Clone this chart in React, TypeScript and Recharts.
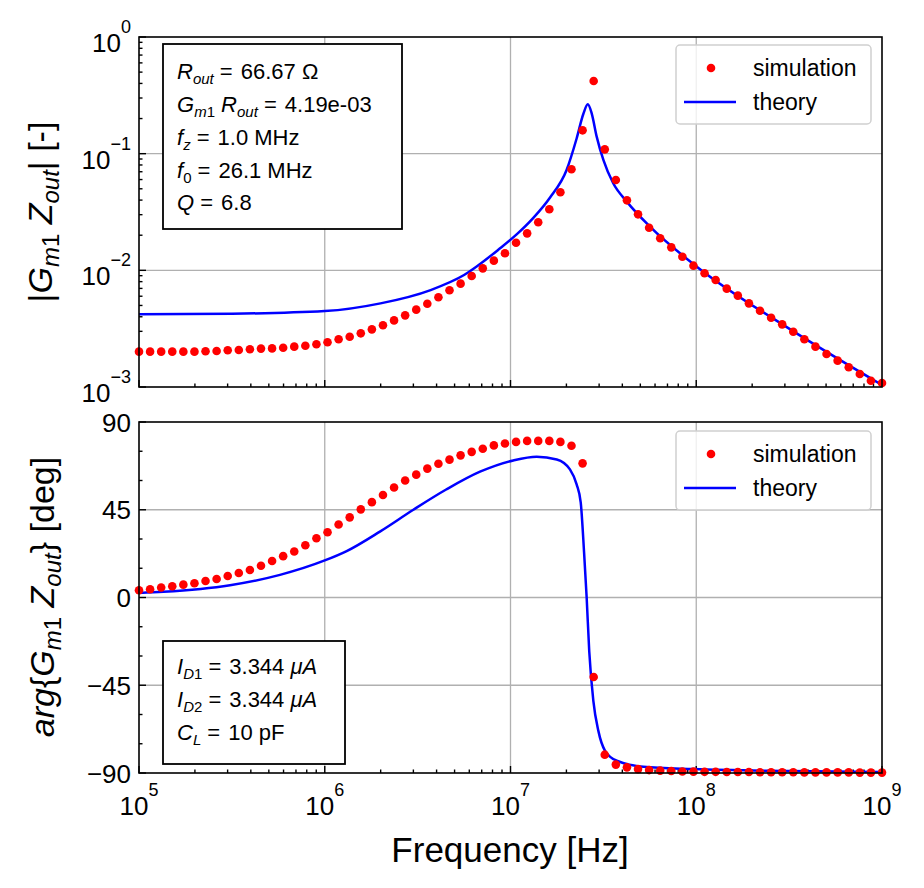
import React from "react";
import {
  ComposedChart,
  Line,
  Scatter,
  XAxis,
  YAxis,
  ReferenceLine,
} from "recharts";

// sweep: 68 log-spaced points, 1e5 .. 1e9 Hz (values in decades)
const SWEEP_POINTS = 68;
const freqDecades = Array.from(
  { length: SWEEP_POINTS },
  (_, i) => 5 + (i * 4) / (SWEEP_POINTS - 1)
);

// |Gm1 Zout| simulation, log10
const simMagDecades = [
  -2.697, -2.697, -2.697, -2.697, -2.697, -2.697, -2.694, -2.691, -2.685, -2.683,
  -2.677, -2.671, -2.669, -2.663, -2.654, -2.646, -2.634, -2.617, -2.591, -2.569,
  -2.54, -2.506, -2.471, -2.429, -2.386, -2.337, -2.286, -2.231, -2.171, -2.114,
  -2.049, -1.983, -1.917, -1.854, -1.763, -1.683, -1.588, -1.477, -1.331, -1.134,
  -0.8, -0.377, -0.963, -1.226, -1.4, -1.52, -1.635, -1.725, -1.803, -1.883,
  -1.96, -2.025, -2.083, -2.157, -2.217, -2.283, -2.346, -2.406, -2.463, -2.526,
  -2.591, -2.654, -2.717, -2.774, -2.831, -2.889, -2.946, -2.966,
];

// arg{Gm1 Zout} simulation, deg
const simPhaseDeg = [
  3.7, 4.2, 5.1, 5.8, 6.6, 7.3, 8.5, 9.5, 11.0, 12.6,
  14.1, 16.3, 18.7, 21.2, 23.6, 26.8, 30.4, 33.5, 37.4, 41.1,
  45.2, 48.9, 52.6, 56.4, 60.0, 63.0, 66.1, 68.6, 70.7, 72.9,
  74.7, 76.3, 78.0, 79.0, 79.8, 80.3, 80.3, 80.3, 79.8, 77.8,
  68.8, -40.8, -80.6, -85.7, -87.1, -88.0, -88.5, -88.8, -89.0, -89.2,
  -89.3, -89.4, -89.4, -89.5, -89.5, -89.5, -89.6, -89.6, -89.6, -89.6,
  -89.7, -89.7, -89.7, -89.7, -89.7, -89.8, -89.8, -89.8,
];

// theory curves sampled from the plot: [freq decade, value]
const theoryMag: [number, number][] = [
  [5.0, -2.377], [5.5, -2.372], [6.0, -2.349], [6.3, -2.283], [6.57, -2.169],
  [6.75, -2.04], [6.944, -1.811], [7.033, -1.692], [7.123, -1.55], [7.213, -1.375],
  [7.302, -1.14], [7.356, -0.87], [7.392, -0.66], [7.416, -0.577], [7.437, -0.654],
  [7.464, -0.854], [7.5, -1.054], [7.553, -1.254], [7.626, -1.411], [7.751, -1.626],
  [8.003, -1.969], [8.5, -2.5], [9.0, -2.983],
];
const theoryPhase: [number, number][] = [
  [5.0, 2.3], [5.131, 2.9], [5.49, 6.3], [5.759, 11.6], [6.0, 19.0],
  [6.118, 23.8], [6.297, 33.8], [6.477, 45.0], [6.656, 55.5], [6.836, 64.5],
  [7.015, 70.3], [7.141, 72.2], [7.249, 70.8], [7.32, 65.7], [7.356, 58],
  [7.378, 48.8], [7.396, 23.3], [7.41, 0], [7.424, -27.7], [7.446, -53],
  [7.473, -68.4], [7.509, -78.6], [7.572, -83.7], [7.715, -86.8], [7.984, -88],
  [8.5, -89], [9.0, -89.5],
];

const xMajor = [5, 6, 7, 8, 9];
const magMajor = [-3, -2, -1, 0];
const phaseMajor = [-90, -45, 0, 45, 90];
const phaseMinor = [-75, -60, -30, -15, 15, 30, 60, 75];

const FONT = "'Liberation Sans', Arial, sans-serif";
const RED = "#ff0000";
const BLUE = "#0000ff";
const GRID = "#b0b0b0";

const decadeMinors = (majors: number[]) =>
  majors.slice(0, -1).flatMap((m) =>
    [2, 3, 4, 5, 6, 7, 8, 9].map((k) => m + Math.log10(k))
  );
const xTicks = [...xMajor, ...decadeMinors(xMajor)].sort((a, b) => a - b);
const magTicks = [...magMajor, ...decadeMinors(magMajor)].sort((a, b) => a - b);
const phaseTicks = [...phaseMajor, ...phaseMinor].sort((a, b) => a - b);

const simMag = freqDecades.map((x, i) => ({ x, y: simMagDecades[i] }));
const simPhase = freqDecades.map((x, i) => ({ x, y: simPhaseDeg[i] }));
const thMag = theoryMag.map(([x, y]) => ({ x, y }));
const thPhase = theoryPhase.map(([x, y]) => ({ x, y }));

const isInt = (v: number) => Math.abs(v - Math.round(v)) < 1e-6;
const minus = (s: string) => s.replace("-", "\u2212");

function XTick(props: any) {
  const { x, y, payload } = props;
  if (!isInt(payload.value)) return <g />;
  return (
    <text x={x} y={y + 40} textAnchor="middle" fontFamily={FONT} fontSize={26} fill="#000">
      <tspan>10</tspan>
      <tspan dy={-19} fontSize={18}>{payload.value}</tspan>
    </text>
  );
}

function MagTick(props: any) {
  const { x, y, payload } = props;
  if (!isInt(payload.value)) return <g />;
  return (
    <text x={x - 6} y={y + 15} textAnchor="end" fontFamily={FONT} fontSize={26} fill="#000">
      <tspan>10</tspan>
      <tspan dy={-19} fontSize={18}>{minus(String(payload.value))}</tspan>
    </text>
  );
}

function PhaseTick(props: any) {
  const { x, y, payload } = props;
  if (payload.value % 45 !== 0) return <g />;
  return (
    <text x={x - 6} y={y + 9.5} textAnchor="end" fontFamily={FONT} fontSize={26} fill="#000">
      {minus(String(payload.value))}
    </text>
  );
}

const dot = (p: any) => <circle cx={p.cx} cy={p.cy} r={4.3} fill={RED} />;

// inward tick marks built as short reference segments (lengths in data units)
function tickMarks(
  xs: number[], ys: number[], x0: number, y0: number,
  xLen: number, yLen: number, isMajorX: (v: number) => boolean, isMajorY: (v: number) => boolean
) {
  return [
    ...xs.map((v) => (
      <ReferenceLine key={"tx" + v} ifOverflow="visible" stroke="#000" strokeWidth={1.4}
        segment={[{ x: v, y: y0 }, { x: v, y: y0 + (isMajorX(v) ? yLen : yLen / 2) }]} />
    )),
    ...ys.map((v) => (
      <ReferenceLine key={"ty" + v} ifOverflow="visible" stroke="#000" strokeWidth={1.4}
        segment={[{ x: x0, y: v }, { x: x0 + (isMajorY(v) ? xLen : xLen / 2), y: v }]} />
    )),
  ];
}

function Legend({ top }: { top: number }) {
  return (
    <g fontFamily={FONT} fontSize={23}>
      <rect x={676} y={top} width={195} height={79} rx={4} fill="#fff" fillOpacity={0.8} stroke="#d0d0d0" strokeWidth={1.5} />
      <circle cx={711} cy={top + 23} r={4.3} fill={RED} />
      <text x={753} y={top + 31}>simulation</text>
      <line x1={684} x2={736} y1={top + 57} y2={top + 57} stroke={BLUE} strokeWidth={2.5} />
      <text x={753} y={top + 65}>theory</text>
    </g>
  );
}

const sub = { fontSize: 15, dy: 5 } as const;
const back = { dy: -5 } as const;

export default function App() {
  return (
    <div style={{ position: "absolute", left: 0, top: 0, width: 924, height: 888, background: "#fff" }}>
      <div style={{ position: "absolute", left: 0, top: 0 }}>
        <ComposedChart width={924} height={420} margin={{ top: 37, right: 42, bottom: 0, left: 0 }}>
          <XAxis type="number" dataKey="x" domain={[5, 9]} ticks={xTicks} interval={0}
            height={33} tickSize={0} tickLine={false} axisLine={false} tick={false} allowDuplicatedCategory={false} />
          <YAxis type="number" dataKey="y" domain={[-3, 0]} ticks={magTicks} interval={0}
            width={139} tickSize={0} tickLine={false} axisLine={false} tick={<MagTick />} />
          {xMajor.slice(1, -1).map((v) => <ReferenceLine key={"x" + v} x={v} stroke={GRID} strokeWidth={1.3} />)}
          {magMajor.slice(1, -1).map((v) => <ReferenceLine key={"y" + v} y={v} stroke={GRID} strokeWidth={1.3} />)}
          {tickMarks(xTicks, magTicks, 5, -3, 0.0377, 0.06, isInt, isInt)}
          <Line data={thMag} dataKey="y" type="monotone" stroke={BLUE} strokeWidth={2.5} dot={false} isAnimationActive={false} />
          <Scatter data={simMag} dataKey="y" fill={RED} shape={dot} isAnimationActive={false} />
        </ComposedChart>
      </div>
      <div style={{ position: "absolute", left: 0, top: 400 }}>
        <ComposedChart width={924} height={488} margin={{ top: 22, right: 42, bottom: 0, left: 0 }}>
          <XAxis type="number" dataKey="x" domain={[5, 9]} ticks={xTicks} interval={0}
            height={115} tickSize={0} tickLine={false} axisLine={false} tick={<XTick />} allowDuplicatedCategory={false} />
          <YAxis type="number" dataKey="y" domain={[-90, 90]} ticks={phaseTicks} interval={0}
            width={139} tickSize={0} tickLine={false} axisLine={false} tick={<PhaseTick />} />
          {xMajor.slice(1, -1).map((v) => <ReferenceLine key={"x" + v} x={v} stroke={GRID} strokeWidth={1.3} />)}
          {phaseMajor.slice(1, -1).map((v) => <ReferenceLine key={"y" + v} y={v} stroke={GRID} strokeWidth={1.3} />)}
          {tickMarks(xTicks, phaseTicks, 5, -90, 0.0377, 3.6, isInt, (v) => v % 45 === 0)}
          <Line data={thPhase} dataKey="y" type="monotone" stroke={BLUE} strokeWidth={2.5} dot={false} isAnimationActive={false} />
          <Scatter data={simPhase} dataKey="y" fill={RED} shape={dot} isAnimationActive={false} />
        </ComposedChart>
      </div>
      <svg width={924} height={888} style={{ position: "absolute", left: 0, top: 0, pointerEvents: "none" }}>
        <rect x={139} y={37} width={743} height={350} fill="none" stroke="#000" strokeWidth={1.6} />
        <rect x={139} y={422} width={743} height={351} fill="none" stroke="#000" strokeWidth={1.6} />

        <g fontFamily={FONT} fontSize={22} fill="#000">
          <rect x={163} y={44} width={239} height={185} fill="#fff" stroke="#000" strokeWidth={1.8} />
          <text x={177} y={79}>
            <tspan fontStyle="italic">R</tspan><tspan fontStyle="italic" {...sub}>out</tspan>
            <tspan {...back}> =</tspan><tspan dx={8}>66.67 Ω</tspan>
          </text>
          <text x={177} y={112}>
            <tspan fontStyle="italic">G</tspan><tspan fontStyle="italic" {...sub}>m</tspan><tspan fontSize={15}>1</tspan>
            <tspan {...back} fontStyle="italic"> R</tspan><tspan fontStyle="italic" {...sub}>out</tspan>
            <tspan {...back}> =</tspan><tspan dx={8}>4.19e-03</tspan>
          </text>
          <text x={177} y={145}>
            <tspan fontStyle="italic">f</tspan><tspan fontStyle="italic" {...sub}>z</tspan>
            <tspan {...back}> =</tspan><tspan dx={8}>1.0 MHz</tspan>
          </text>
          <text x={177} y={178}>
            <tspan fontStyle="italic">f</tspan><tspan {...sub}>0</tspan>
            <tspan {...back}> =</tspan><tspan dx={8}>26.1 MHz</tspan>
          </text>
          <text x={177} y={210}>
            <tspan fontStyle="italic">Q</tspan><tspan> =</tspan><tspan dx={8}>6.8</tspan>
          </text>

          <rect x={163} y={641} width={182} height={123} fill="#fff" stroke="#000" strokeWidth={1.8} />
          <text x={177} y={674}>
            <tspan fontStyle="italic">I</tspan><tspan fontStyle="italic" {...sub}>D</tspan><tspan fontSize={15}>1</tspan>
            <tspan {...back}> =</tspan><tspan dx={8}>3.344 </tspan><tspan fontStyle="italic">μA</tspan>
          </text>
          <text x={177} y={707}>
            <tspan fontStyle="italic">I</tspan><tspan fontStyle="italic" {...sub}>D</tspan><tspan fontSize={15}>2</tspan>
            <tspan {...back}> =</tspan><tspan dx={8}>3.344 </tspan><tspan fontStyle="italic">μA</tspan>
          </text>
          <text x={177} y={740}>
            <tspan fontStyle="italic">C</tspan><tspan fontStyle="italic" {...sub}>L</tspan>
            <tspan {...back}> =</tspan><tspan dx={8}>10 pF</tspan>
          </text>
        </g>

        <Legend top={45} />
        <Legend top={431} />

        <g fontFamily={FONT} fontSize={34} fill="#000">
          <text transform="translate(52,212) rotate(-90)" textAnchor="middle">
            <tspan>|</tspan><tspan fontStyle="italic">G</tspan><tspan fontStyle="italic" fontSize={24} dy={7}>m</tspan><tspan fontSize={24}>1</tspan>
            <tspan dy={-7} fontStyle="italic"> Z</tspan><tspan fontStyle="italic" fontSize={24} dy={7}>out</tspan>
            <tspan dy={-7}>| [-]</tspan>
          </text>
          <text transform="translate(54,597) rotate(-90)" textAnchor="middle">
            <tspan fontStyle="italic">arg</tspan><tspan>{"{"}</tspan><tspan fontStyle="italic">G</tspan><tspan fontStyle="italic" fontSize={24} dy={7}>m</tspan><tspan fontSize={24}>1</tspan>
            <tspan dy={-7} fontStyle="italic"> Z</tspan><tspan fontStyle="italic" fontSize={24} dy={7}>out</tspan>
            <tspan dy={-7}>{"} [deg]"}</tspan>
          </text>
          <text x={510} y={862} textAnchor="middle" fontSize={35}>Frequency [Hz]</text>
        </g>
      </svg>
    </div>
  );
}
